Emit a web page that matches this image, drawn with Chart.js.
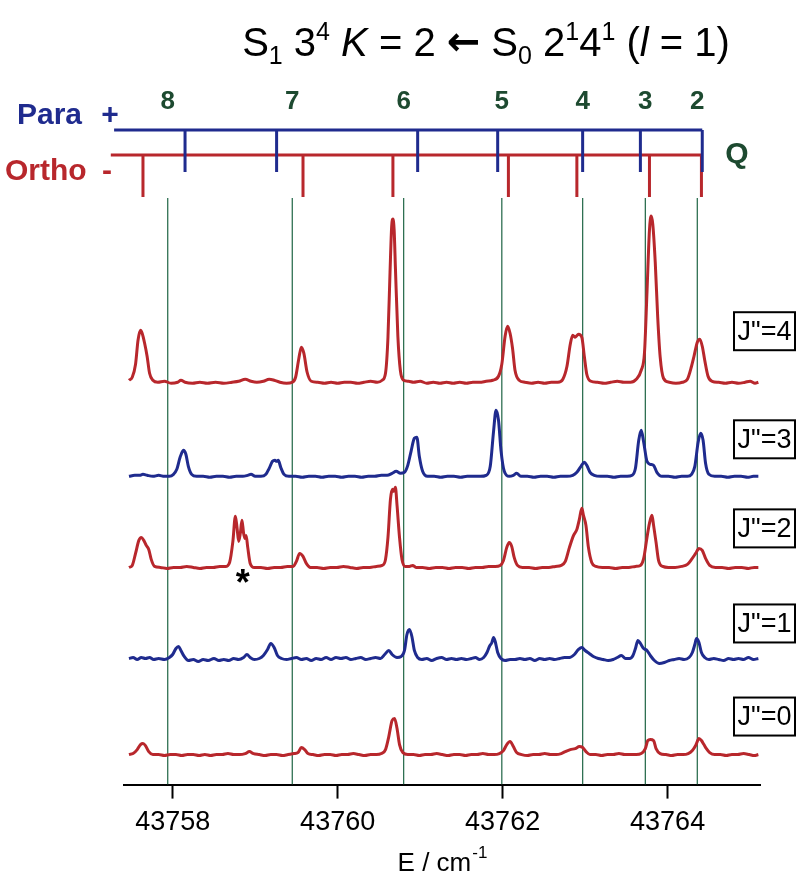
<!DOCTYPE html>
<html>
<head>
<meta charset="utf-8">
<script src="https://cdn.jsdelivr.net/npm/chart.js@4.4.1/dist/chart.umd.min.js"></script>
<style>
  html, body { margin: 0; padding: 0; background: #fff; }
  canvas { display: block; }
</style>
</head>
<body>
<canvas id="spectra" width="798" height="873"></canvas>
<script>
// x ticks (cm-1)
const xTicks = [43758, 43760, 43762, 43764];

// Q-branch line positions (cm-1), labelled by J
const qLabels = ["8", "7", "6", "5", "4", "3", "2"];
const qLines = [43757.94, 43759.45, 43760.80, 43761.99, 43762.97, 43763.73, 43764.36];
const paraLines = [43758.15, 43759.26, 43760.97, 43761.94, 43762.97, 43763.67, 43764.42];
const orthoLines = [43757.64, 43759.58, 43760.67, 43762.07, 43762.90, 43763.78, 43764.41];

// traces, bottom to top: J"=0 .. J"=4
const traceLabels = ['J"=0', 'J"=1', 'J"=2', 'J"=3', 'J"=4'];
const traceSpin = ["ortho", "para", "ortho", "para", "ortho"];
const traceOffsets = [3.0, 12.6, 21.7, 30.8, 40.2];

// [E / cm-1, intensity]
const specJ0 = [
  [43757.47, 0.0], [43757.52, 0.1], [43757.57, 0.5], [43757.61, 1.0], [43757.64, 1.1], [43757.67, 0.9], [43757.71, 0.3], [43757.76, 0.0],
  [43757.83, 0.0], [43757.90, -0.1], [43757.97, 0.0], [43758.04, 0.0], [43758.11, -0.1], [43758.18, 0.0], [43758.25, 0.0], [43758.32, -0.1],
  [43758.39, 0.0], [43758.46, -0.1], [43758.53, 0.0], [43758.60, 0.0], [43758.67, 0.1], [43758.74, 0.0], [43758.81, 0.0], [43758.88, 0.1],
  [43758.93, 0.3], [43758.98, 0.1], [43759.05, 0.0], [43759.12, -0.1], [43759.19, 0.0], [43759.26, 0.0], [43759.33, -0.1], [43759.40, 0.0],
  [43759.47, 0.1], [43759.52, 0.2], [43759.56, 0.7], [43759.60, 0.5], [43759.64, 0.1], [43759.70, 0.0], [43759.77, -0.1], [43759.84, 0.0],
  [43759.91, 0.0], [43759.98, -0.1], [43760.05, 0.0], [43760.12, 0.0], [43760.19, 0.1], [43760.26, 0.0], [43760.33, -0.1], [43760.40, 0.0],
  [43760.47, 0.0], [43760.53, 0.1], [43760.58, 0.5], [43760.62, 1.8], [43760.66, 3.4], [43760.69, 3.6], [43760.72, 2.6], [43760.75, 1.0],
  [43760.79, 0.2], [43760.85, 0.0], [43760.92, 0.0], [43760.99, -0.1], [43761.06, 0.0], [43761.13, 0.0], [43761.20, 0.1], [43761.27, 0.0],
  [43761.34, -0.1], [43761.41, 0.0], [43761.48, 0.0], [43761.55, -0.1], [43761.62, 0.0], [43761.69, 0.0], [43761.76, 0.1], [43761.83, 0.0],
  [43761.90, 0.0], [43761.96, 0.1], [43762.01, 0.4], [43762.05, 1.0], [43762.09, 1.3], [43762.13, 0.8], [43762.17, 0.2], [43762.23, 0.0],
  [43762.30, -0.1], [43762.37, 0.0], [43762.44, 0.0], [43762.51, 0.1], [43762.58, 0.0], [43762.65, 0.0], [43762.71, 0.1], [43762.76, 0.3],
  [43762.82, 0.5], [43762.88, 0.6], [43762.93, 0.8], [43762.97, 0.7], [43763.01, 0.3], [43763.06, 0.0], [43763.13, 0.0], [43763.20, -0.1],
  [43763.27, 0.0], [43763.34, 0.0], [43763.41, 0.1], [43763.48, 0.0], [43763.55, 0.0], [43763.62, 0.0], [43763.68, 0.1], [43763.73, 0.6],
  [43763.76, 1.4], [43763.79, 1.5], [43763.83, 1.4], [43763.86, 0.6], [43763.91, 0.1], [43763.98, 0.0], [43764.05, -0.1], [43764.12, 0.0],
  [43764.19, 0.0], [43764.25, 0.1], [43764.30, 0.4], [43764.34, 0.9], [43764.38, 1.6], [43764.41, 1.4], [43764.44, 1.0], [43764.47, 0.6],
  [43764.51, 0.2], [43764.57, 0.0], [43764.64, 0.0], [43764.71, -0.1], [43764.78, 0.0], [43764.85, 0.0], [43764.92, 0.1], [43764.99, 0.0],
  [43765.05, -0.1], [43765.10, 0.0]
];

const specJ1 = [
  [43757.47, 0.0], [43757.52, 0.1], [43757.57, -0.1], [43757.62, 0.1], [43757.67, 0.0], [43757.72, 0.1], [43757.77, -0.1], [43757.83, 0.0],
  [43757.90, -0.1], [43757.96, 0.1], [43758.00, 0.4], [43758.04, 1.0], [43758.07, 1.2], [43758.10, 0.8], [43758.14, 0.2], [43758.19, -0.2],
  [43758.25, -0.1], [43758.31, -0.3], [43758.37, -0.1], [43758.43, -0.2], [43758.50, 0.0], [43758.56, -0.2], [43758.62, -0.1], [43758.68, -0.2],
  [43758.74, 0.0], [43758.80, -0.1], [43758.86, 0.1], [43758.90, 0.4], [43758.94, 0.1], [43758.99, -0.1], [43759.05, 0.0], [43759.10, 0.3],
  [43759.15, 0.9], [43759.19, 1.5], [43759.23, 1.1], [43759.27, 0.3], [43759.32, 0.0], [43759.38, -0.1], [43759.44, 0.0], [43759.50, 0.1],
  [43759.56, -0.1], [43759.62, 0.0], [43759.68, -0.2], [43759.74, 0.0], [43759.80, -0.1], [43759.86, 0.1], [43759.92, -0.1], [43759.98, 0.1],
  [43760.04, 0.0], [43760.10, 0.1], [43760.16, -0.1], [43760.22, 0.0], [43760.28, 0.1], [43760.34, -0.1], [43760.40, 0.0], [43760.46, 0.1],
  [43760.52, 0.0], [43760.57, 0.4], [43760.62, 0.8], [43760.66, 0.4], [43760.72, 0.1], [43760.77, 0.2], [43760.81, 0.8], [43760.84, 2.4],
  [43760.87, 2.9], [43760.90, 2.2], [43760.93, 0.8], [43760.97, 0.1], [43761.02, -0.1], [43761.08, 0.0], [43761.14, -0.2], [43761.20, 0.0],
  [43761.26, 0.1], [43761.32, -0.1], [43761.38, 0.0], [43761.44, -0.1], [43761.50, 0.0], [43761.56, -0.1], [43761.62, 0.0], [43761.67, 0.1],
  [43761.72, -0.1], [43761.77, 0.1], [43761.81, 0.6], [43761.84, 1.2], [43761.87, 1.6], [43761.89, 2.1], [43761.91, 1.7], [43761.94, 0.6],
  [43761.98, 0.0], [43762.03, -0.2], [43762.09, -0.1], [43762.15, -0.1], [43762.21, 0.0], [43762.27, -0.1], [43762.33, 0.0], [43762.39, -0.2],
  [43762.45, 0.0], [43762.51, -0.1], [43762.57, 0.0], [43762.63, -0.1], [43762.69, 0.0], [43762.75, 0.1], [43762.81, 0.1], [43762.87, 0.4],
  [43762.92, 0.9], [43762.96, 1.1], [43763.00, 0.8], [43763.05, 0.5], [43763.10, 0.2], [43763.16, 0.0], [43763.22, -0.1], [43763.28, -0.2],
  [43763.34, -0.1], [43763.39, 0.1], [43763.44, 0.3], [43763.49, 0.0], [43763.54, 0.0], [43763.58, 0.3], [43763.61, 1.0], [43763.64, 1.8],
  [43763.67, 1.5], [43763.71, 1.0], [43763.75, 0.8], [43763.79, 0.3], [43763.84, -0.2], [43763.90, -0.5], [43763.96, -0.4], [43764.02, -0.2],
  [43764.08, -0.1], [43764.14, 0.0], [43764.20, -0.1], [43764.26, 0.1], [43764.30, 0.6], [43764.33, 1.4], [43764.35, 2.0], [43764.38, 1.6],
  [43764.41, 0.6], [43764.45, 0.1], [43764.50, -0.1], [43764.56, 0.0], [43764.62, -0.1], [43764.68, -0.2], [43764.74, 0.0], [43764.80, -0.1],
  [43764.86, 0.0], [43764.92, -0.1], [43764.98, 0.1], [43765.04, -0.1], [43765.10, 0.0]
];

const specJ2 = [
  [43757.47, 0.0], [43757.51, 0.2], [43757.55, 1.4], [43757.59, 2.7], [43757.62, 3.0], [43757.65, 2.7], [43757.68, 2.2], [43757.71, 1.8],
  [43757.74, 0.8], [43757.78, 0.1], [43757.85, 0.0], [43757.93, -0.1], [43758.01, 0.0], [43758.09, 0.0], [43758.17, 0.1], [43758.25, 0.0],
  [43758.33, -0.1], [43758.41, 0.0], [43758.49, 0.0], [43758.57, 0.1], [43758.64, 0.1], [43758.69, 0.5], [43758.73, 2.6], [43758.76, 5.1],
  [43758.78, 4.0], [43758.80, 2.6], [43758.82, 3.4], [43758.84, 4.7], [43758.86, 3.4], [43758.875, 2.9], [43758.89, 3.2], [43758.91, 2.0],
  [43758.94, 0.4], [43758.99, 0.0], [43759.07, 0.0], [43759.15, -0.1], [43759.23, 0.0], [43759.31, 0.0], [43759.39, 0.1], [43759.46, 0.1],
  [43759.50, 0.6], [43759.54, 1.4], [43759.58, 1.1], [43759.62, 0.4], [43759.67, 0.0], [43759.75, 0.0], [43759.83, -0.1], [43759.91, 0.0],
  [43759.99, 0.0], [43760.07, 0.1], [43760.15, 0.0], [43760.23, -0.1], [43760.31, 0.0], [43760.39, 0.0], [43760.47, 0.1], [43760.54, 0.2],
  [43760.58, 0.8], [43760.61, 3.0], [43760.64, 6.8], [43760.665, 7.8], [43760.68, 7.6], [43760.70, 8.0], [43760.72, 6.2], [43760.75, 3.0],
  [43760.78, 0.8], [43760.82, 0.1], [43760.87, 0.1], [43760.91, 0.2], [43760.95, 0.0], [43761.03, 0.0], [43761.11, -0.1], [43761.19, 0.0],
  [43761.27, 0.0], [43761.35, -0.1], [43761.43, 0.0], [43761.51, 0.0], [43761.59, -0.1], [43761.67, 0.0], [43761.75, 0.0], [43761.83, 0.1],
  [43761.91, 0.1], [43761.97, 0.2], [43762.01, 0.7], [43762.05, 2.0], [43762.08, 2.5], [43762.11, 2.1], [43762.14, 1.0], [43762.18, 0.2],
  [43762.24, 0.0], [43762.32, 0.0], [43762.40, -0.1], [43762.48, 0.0], [43762.56, 0.0], [43762.64, 0.1], [43762.71, 0.2], [43762.76, 0.6],
  [43762.81, 2.0], [43762.86, 3.2], [43762.90, 3.8], [43762.93, 4.8], [43762.96, 5.9], [43762.98, 5.2], [43763.01, 4.2], [43763.04, 2.0],
  [43763.08, 0.5], [43763.13, 0.1], [43763.21, 0.0], [43763.29, 0.0], [43763.37, -0.1], [43763.45, 0.0], [43763.53, 0.0], [43763.61, 0.1],
  [43763.67, 0.2], [43763.71, 0.9], [43763.75, 3.0], [43763.78, 4.4], [43763.81, 5.2], [43763.83, 4.2], [43763.86, 2.5], [43763.89, 0.7],
  [43763.94, 0.1], [43764.01, 0.0], [43764.09, 0.0], [43764.17, 0.1], [43764.24, 0.3], [43764.29, 0.8], [43764.34, 1.4], [43764.38, 1.9],
  [43764.42, 1.7], [43764.46, 0.9], [43764.51, 0.2], [43764.58, 0.0], [43764.66, 0.0], [43764.74, -0.1], [43764.82, 0.0], [43764.90, 0.0],
  [43764.98, -0.1], [43765.05, 0.0], [43765.10, 0.0]
];

const specJ3 = [
  [43757.47, 0.0], [43757.54, 0.1], [43757.60, 0.1], [43757.64, 0.2], [43757.69, 0.1], [43757.76, 0.0], [43757.83, 0.1], [43757.90, 0.0],
  [43757.96, 0.0], [43758.01, 0.2], [43758.05, 0.7], [43758.09, 1.9], [43758.13, 2.6], [43758.16, 2.2], [43758.19, 1.0], [43758.23, 0.2],
  [43758.29, 0.0], [43758.37, 0.0], [43758.45, -0.1], [43758.53, 0.0], [43758.61, 0.0], [43758.69, -0.1], [43758.77, 0.0], [43758.85, 0.0],
  [43758.91, 0.1], [43758.95, 0.2], [43759.00, 0.0], [43759.07, 0.0], [43759.13, 0.2], [43759.17, 0.8], [43759.21, 1.5], [43759.24, 1.6],
  [43759.26, 1.5], [43759.28, 1.6], [43759.31, 0.9], [43759.35, 0.2], [43759.41, 0.0], [43759.49, 0.0], [43759.57, -0.1], [43759.65, 0.0],
  [43759.73, 0.0], [43759.81, -0.1], [43759.89, 0.0], [43759.97, 0.0], [43760.05, -0.1], [43760.13, 0.0], [43760.21, 0.0], [43760.29, -0.1],
  [43760.37, 0.0], [43760.45, 0.0], [43760.53, 0.1], [43760.60, 0.1], [43760.66, 0.3], [43760.71, 0.5], [43760.76, 0.3], [43760.81, 0.4],
  [43760.85, 1.1], [43760.89, 2.5], [43760.93, 3.8], [43760.96, 3.9], [43760.99, 2.0], [43761.03, 0.5], [43761.09, 0.0], [43761.17, 0.0],
  [43761.25, -0.1], [43761.33, 0.0], [43761.41, 0.0], [43761.49, -0.1], [43761.57, 0.0], [43761.65, 0.0], [43761.73, 0.0], [43761.80, 0.1],
  [43761.85, 1.0], [43761.89, 4.5], [43761.92, 6.6], [43761.95, 5.6], [43761.98, 2.6], [43762.02, 0.5], [43762.08, 0.0], [43762.13, 0.1],
  [43762.17, 0.3], [43762.22, 0.0], [43762.30, 0.0], [43762.38, -0.1], [43762.46, 0.0], [43762.54, 0.0], [43762.62, -0.1], [43762.70, 0.0],
  [43762.78, 0.0], [43762.85, 0.1], [43762.90, 0.4], [43762.95, 1.0], [43762.99, 1.4], [43763.02, 1.1], [43763.06, 0.4], [43763.11, 0.1],
  [43763.19, 0.0], [43763.27, 0.0], [43763.35, -0.1], [43763.43, 0.0], [43763.51, 0.0], [43763.57, 0.1], [43763.61, 0.8], [43763.65, 3.6],
  [43763.68, 4.6], [43763.71, 3.4], [43763.75, 1.5], [43763.79, 1.2], [43763.83, 1.1], [43763.87, 0.4], [43763.93, 0.0], [43764.01, 0.0],
  [43764.09, -0.1], [43764.17, 0.0], [43764.24, 0.0], [43764.29, 0.2], [43764.33, 1.0], [43764.37, 3.4], [43764.40, 4.3], [43764.43, 3.6],
  [43764.46, 1.3], [43764.50, 0.2], [43764.57, 0.0], [43764.65, 0.0], [43764.73, -0.1], [43764.81, 0.0], [43764.89, 0.0], [43764.97, -0.1],
  [43765.04, 0.0], [43765.10, 0.0]
];

const specJ4 = [
  [43757.47, 0.2], [43757.51, 0.5], [43757.55, 1.8], [43757.58, 4.2], [43757.61, 5.2], [43757.63, 4.9], [43757.66, 3.9], [43757.69, 2.6],
  [43757.72, 0.9], [43757.76, 0.2], [43757.82, 0.0], [43757.90, 0.1], [43757.98, -0.1], [43758.06, 0.0], [43758.10, 0.2], [43758.15, 0.0],
  [43758.24, -0.1], [43758.33, 0.0], [43758.42, -0.1], [43758.52, 0.0], [43758.62, -0.1], [43758.72, 0.0], [43758.80, 0.1], [43758.88, 0.3],
  [43758.95, 0.1], [43759.02, 0.0], [43759.10, 0.1], [43759.17, 0.3], [43759.23, 0.2], [43759.30, 0.0], [43759.38, -0.1], [43759.45, 0.0],
  [43759.49, 0.5], [43759.53, 2.4], [43759.56, 3.5], [43759.59, 2.9], [43759.63, 1.0], [43759.68, 0.1], [43759.76, 0.0], [43759.84, -0.1],
  [43759.92, 0.0], [43760.00, -0.1], [43760.08, 0.0], [43760.16, 0.0], [43760.24, -0.1], [43760.32, 0.0], [43760.40, 0.1], [43760.48, 0.0],
  [43760.54, 0.2], [43760.58, 0.9], [43760.61, 4.5], [43760.635, 11.0], [43760.655, 15.6], [43760.67, 16.3], [43760.685, 15.2], [43760.70, 11.5],
  [43760.73, 4.6], [43760.76, 1.2], [43760.80, 0.2], [43760.86, 0.1], [43760.92, 0.0], [43761.00, 0.1], [43761.08, -0.1], [43761.16, 0.0],
  [43761.24, -0.1], [43761.32, 0.0], [43761.40, -0.1], [43761.48, 0.0], [43761.56, -0.1], [43761.64, 0.0], [43761.72, 0.0], [43761.80, 0.1],
  [43761.88, 0.2], [43761.95, 0.6], [43761.99, 1.8], [43762.03, 4.6], [43762.06, 5.6], [43762.09, 4.9], [43762.12, 3.4], [43762.15, 1.2],
  [43762.20, 0.2], [43762.27, 0.0], [43762.35, -0.1], [43762.43, 0.0], [43762.51, -0.1], [43762.59, 0.0], [43762.67, 0.0], [43762.73, 0.3],
  [43762.78, 1.6], [43762.82, 3.8], [43762.85, 4.7], [43762.88, 4.5], [43762.92, 4.8], [43762.96, 4.5], [43762.99, 2.6], [43763.02, 0.8],
  [43763.07, 0.1], [43763.15, 0.0], [43763.23, -0.1], [43763.31, 0.0], [43763.39, 0.1], [43763.47, 0.0], [43763.55, 0.0], [43763.62, 0.3],
  [43763.68, 1.2], [43763.72, 3.0], [43763.75, 9.0], [43763.78, 15.2], [43763.80, 16.6], [43763.82, 15.8], [43763.85, 12.0], [43763.88, 6.5],
  [43763.91, 2.5], [43763.95, 0.4], [43764.02, 0.0], [43764.10, -0.1], [43764.18, 0.0], [43764.24, 0.3], [43764.29, 1.6], [43764.32, 2.6],
  [43764.36, 4.0], [43764.39, 4.3], [43764.42, 3.6], [43764.45, 2.2], [43764.49, 0.6], [43764.54, 0.1], [43764.62, 0.0], [43764.70, -0.1],
  [43764.78, 0.0], [43764.86, -0.1], [43764.94, 0.0], [43765.00, 0.1], [43765.06, -0.1], [43765.10, 0.0]
];

const spectra = [specJ0, specJ1, specJ2, specJ3, specJ4];

// assignment comb layout (y in plot units)
const comb = {
  paraLevel: 65.4, paraTickEnd: 61.2, paraStart: 43757.29,
  orthoLevel: 62.9, orthoTickEnd: 58.7, orthoStart: 43757.25,
  qTop: 58.6
};
const colors = { ortho: "#b8272c", para: "#1f2b8e", qLine: "#2f7052", qText: "#1d4a30" };
const FONT = '"Liberation Sans", Arial, Helvetica, sans-serif';

function combData(lines, level, tickEnd, start) {
  const pts = [{ x: start, y: level }, { x: lines[lines.length - 1], y: level }, { x: start, y: null }];
  lines.forEach(v => { pts.push({ x: v, y: level }, { x: v, y: tickEnd }, { x: v, y: null }); });
  return pts;
}

const qData = [];
qLines.forEach(v => { qData.push({ x: v, y: comb.qTop }, { x: v, y: 0 }, { x: v, y: null }); });

const traceSets = spectra.map((s, i) => ({
  label: traceLabels[i],
  data: s.map(p => ({ x: p[0], y: p[1] + traceOffsets[i] })),
  borderColor: colors[traceSpin[i]],
  borderWidth: 3,
  pointRadius: 0,
  cubicInterpolationMode: "monotone",
  showLine: true
}));

const annotate = {
  id: "annotate",
  afterDraw(chart) {
    const { ctx, scales: { x, y } } = chart;
    ctx.save();
    ctx.textAlign = "center";
    ctx.textBaseline = "middle";

    // J" labels in boxes
    const labelLevels = [6.8, 16.1, 25.6, 34.5, 45.3];
    ctx.font = "27px " + FONT;
    ctx.strokeStyle = "#000";
    ctx.lineWidth = 2;
    traceLabels.forEach((t, i) => {
      const cy = y.getPixelForValue(labelLevels[i]);
      ctx.strokeRect(734, cy - 19, 61, 38);
      ctx.fillStyle = "#000";
      ctx.fillText(t, 764.5, cy + 1);
    });

    // asterisk under the impurity line in J"=2
    ctx.font = "bold 36px " + FONT;
    ctx.textBaseline = "alphabetic";
    ctx.fillText("*", x.getPixelForValue(43758.85), y.getPixelForValue(traceOffsets[2]) + 28);

    // Q numbers
    ctx.textBaseline = "middle";
    ctx.font = "bold 26px " + FONT;
    ctx.fillStyle = colors.qText;
    qLabels.forEach((t, i) => ctx.fillText(t, x.getPixelForValue(qLines[i]), y.getPixelForValue(68.2)));
    ctx.font = "bold 30px " + FONT;
    ctx.fillText("Q", 737, y.getPixelForValue(comb.orthoLevel));

    // Para / Ortho
    ctx.textAlign = "left";
    ctx.fillStyle = colors.para;
    ctx.fillText("Para", 17, y.getPixelForValue(66.8));
    ctx.textAlign = "center";
    ctx.fillText("+", 110, y.getPixelForValue(66.8));
    ctx.fillStyle = colors.ortho;
    ctx.textAlign = "left";
    ctx.fillText("Ortho", 5, y.getPixelForValue(61.2));
    ctx.textAlign = "center";
    ctx.fillText("-", 107, y.getPixelForValue(61.2));

    // axis title E / cm-1
    ctx.fillStyle = "#000";
    ctx.textBaseline = "alphabetic";
    ctx.font = "26px " + FONT;
    const main = "E / cm";
    const wMain = ctx.measureText(main).width;
    ctx.font = "17px " + FONT;
    const wSup = ctx.measureText("-1").width;
    const cx = (x.left + x.right) / 2;
    const sx = cx - (wMain + wSup) / 2;
    ctx.textAlign = "left";
    ctx.font = "26px " + FONT;
    ctx.fillText(main, sx, 871);
    ctx.font = "17px " + FONT;
    ctx.fillText("-1", sx + wMain + 1, 858);

    // title with sub/superscripts
    const runs = [
      ["S"], ["1", "sub"], [" 3"], ["4", "sup"], [" "], ["K", "it"], [" = 2 "], ["\u2190", "arrow"], [" S"], ["0", "sub"],
      [" 2"], ["1", "sup"], ["4"], ["1", "sup"], [" ("], ["l", "it"], [" = 1)"]
    ];
    const size = 40;
    const fontFor = k => {
      if (k === "arrow") return "bold " + size + 'px "DejaVu Sans", sans-serif';
      const s = (k === "sub" || k === "sup") ? Math.round(size * 0.62) : size;
      return (k === "it" ? "italic " : "") + s + "px " + FONT;
    };
    let total = 0;
    runs.forEach(r => { ctx.font = fontFor(r[1]); total += ctx.measureText(r[0]).width; });
    let tx = 486 - total / 2;
    const base = 56;
    runs.forEach(r => {
      ctx.font = fontFor(r[1]);
      const dy = r[1] === "sub" ? size * 0.2 : r[1] === "sup" ? -size * 0.4 : r[1] === "arrow" ? -1 : 0;
      ctx.fillText(r[0], tx, base + dy);
      tx += ctx.measureText(r[0]).width;
    });
    ctx.restore();
  }
};

new Chart(document.getElementById("spectra"), {
  type: "scatter",
  data: {
    datasets: [
      ...traceSets,
      {
        label: "Para",
        data: combData(paraLines, comb.paraLevel, comb.paraTickEnd, comb.paraStart),
        borderColor: colors.para, borderWidth: 3, pointRadius: 0, showLine: true, spanGaps: false, clip: false
      },
      {
        label: "Ortho",
        data: combData(orthoLines, comb.orthoLevel, comb.orthoTickEnd, comb.orthoStart),
        borderColor: colors.ortho, borderWidth: 3, pointRadius: 0, showLine: true, spanGaps: false, clip: false
      },
      {
        label: "Q",
        data: qData,
        borderColor: colors.qLine, borderWidth: 1.3, pointRadius: 0, showLine: true, spanGaps: false
      }
    ]
  },
  options: {
    responsive: false,
    animation: false,
    devicePixelRatio: 1,
    layout: { padding: { left: 124, right: 38, top: 84, bottom: 26 } },
    plugins: { legend: { display: false }, tooltip: { enabled: false } },
    scales: {
      x: {
        type: "linear",
        min: 43757.41,
        max: 43765.12,
        afterBuildTicks: s => { s.ticks = xTicks.map(v => ({ value: v })); },
        border: { display: true, color: "#000", width: 2 },
        grid: { drawOnChartArea: false, drawTicks: true, tickLength: 14, tickColor: "#000", tickWidth: 2 },
        ticks: { color: "#000", padding: 8, maxRotation: 0, font: { family: FONT, size: 27 }, callback: v => String(v) }
      },
      y: { type: "linear", min: 0, max: 70, display: false }
    }
  },
  plugins: [annotate]
});
</script>
</body>
</html>
